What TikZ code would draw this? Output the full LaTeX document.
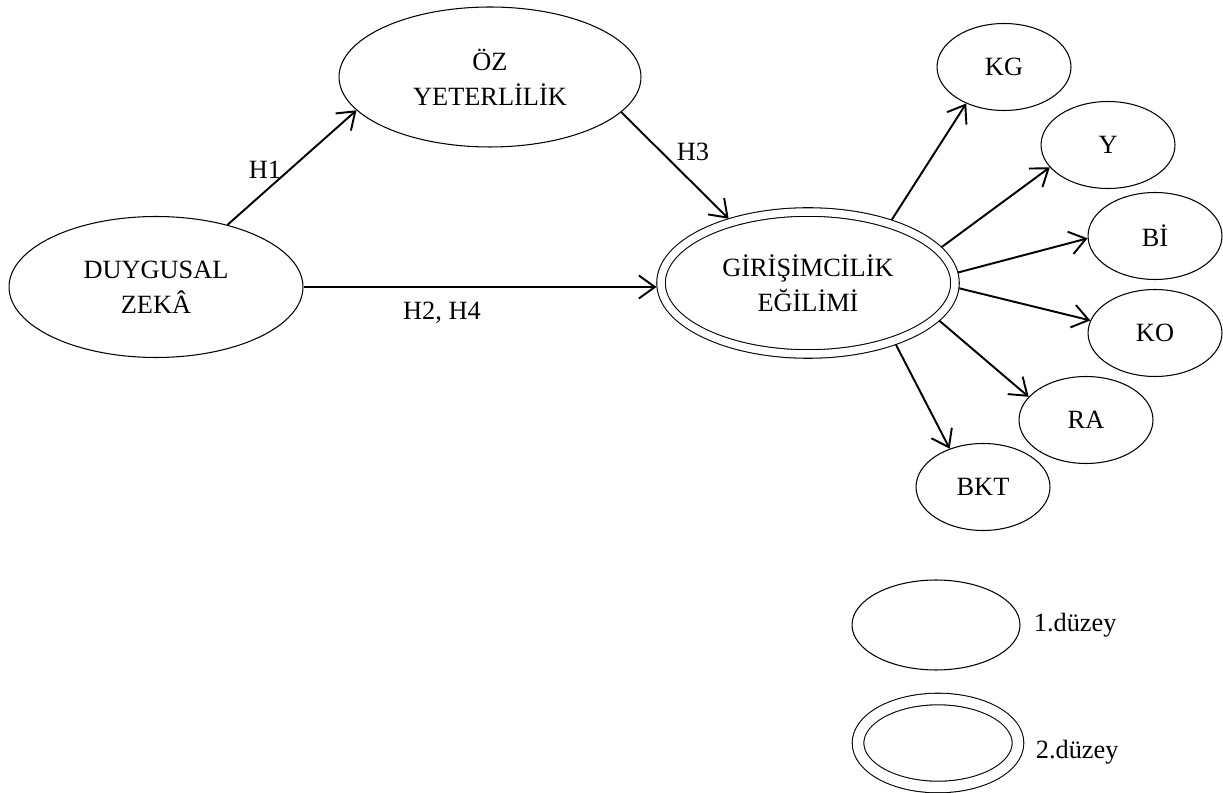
\documentclass[tikz,border=0pt]{standalone}
\usepackage{fontspec}
\setmainfont{Liberation Serif}
\usetikzlibrary{arrows.meta, positioning, shapes.geometric}

\begin{document}
\begin{tikzpicture}[x=0.02cm, y=-0.02cm,
    every node/.style={font=\fontsize{15}{20}\selectfont, align=center},
    ell/.style={draw, ellipse, line width=0.6pt, inner sep=0pt},
    small/.style={ell, minimum width=2.68cm, minimum height=1.74cm},
    arr/.style={->, >={Straight Barb[length=0.32cm, width=0.46cm]}, line width=1.1pt}]
  \useasboundingbox (0,0) rectangle (1223,793);
  % model
  \node[ell, minimum width=5.88cm, minimum height=2.82cm] (duy) at (156,287) {DUYGUSAL\\ZEKÂ};
  \node[ell, minimum width=6.04cm, minimum height=2.8cm] (oz) at (490,77) {ÖZ\\YETERLİLİK};
  \node[ell, double, double distance=0.15cm, outer sep=0.09cm, minimum width=5.88cm, minimum height=2.84cm] (gir) at (808,283) {GİRİŞİMCİLİK\\EĞİLİMİ};
  \node[small] (kg) at (1004,67) {KG};
  \node[small] (yk) at (1108,145) {Y};
  \node[small] (bi) at (1155,236) {Bİ};
  \node[small] (ko) at (1155,333) {KO};
  \node[small] (ra) at (1086,420) {RA};
  \node[small] (bkt) at (983,487) {BKT};
  \draw[arr] (duy.41) -- (oz.194);
  \draw[arr] (oz.-15) -- (gir.141);
  \draw[arr] (duy.east) -- (duy.east -| gir.west);
  \node (h1) at (265,170) {H1};
  \node (h3) at (693,152) {H3};
  \node (h24) at (442,313) {H2, H4};
  \draw[arr] (gir.37) -- (kg.224);
  \draw[arr] (gir.15) -- (yk.201);
  \draw[arr] (gir.4) -- (bi.182);
  \draw[arr] (gir.-2) -- (ko.169);
  \draw[arr] (gir.-16) -- (ra.158);
  \draw[arr] (gir.-35) -- (bkt.131);
  % legend
  \node[ell, minimum width=3.36cm, minimum height=1.8cm] (leg1) at (936,625) {};
  \node[right=0.26cm of leg1, inner sep=0pt] (t1) {1.düzey};
  \node[ell, double, double distance=0.21cm, minimum width=3.2cm, minimum height=1.76cm] (leg2) at (938,743) {};
  \node[right=0.34cm of leg2, inner sep=0pt, yshift=-0.18cm] (t2) {2.düzey};
\end{tikzpicture}
\end{document}
